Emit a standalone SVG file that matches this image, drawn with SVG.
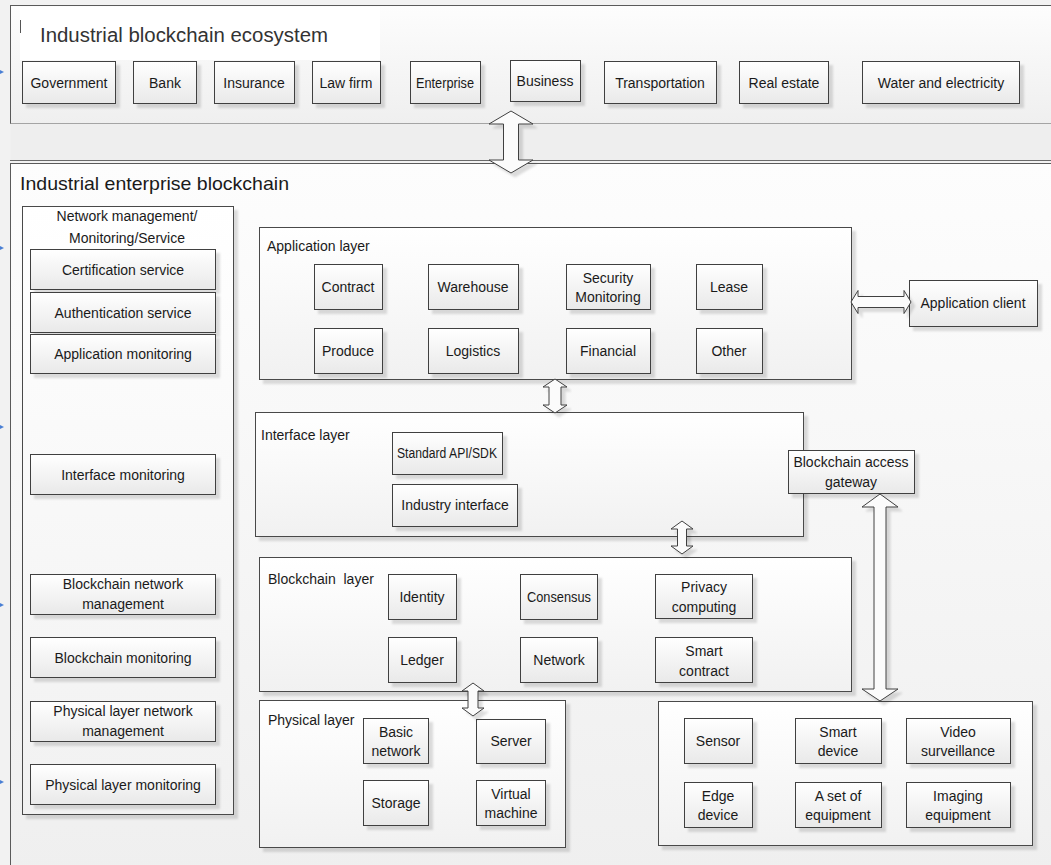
<svg xmlns="http://www.w3.org/2000/svg" width="1051" height="865" viewBox="0 0 1051 865">
  <defs>
    <linearGradient id="gBox" x1="0" y1="0" x2="0" y2="1">
      <stop offset="0" stop-color="#ffffff"/>
      <stop offset="1" stop-color="#e9e9e9"/>
    </linearGradient>
    <linearGradient id="gPanel" x1="0" y1="0" x2="0" y2="1">
      <stop offset="0" stop-color="#ffffff"/>
      <stop offset="1" stop-color="#f1f1f1"/>
    </linearGradient>
    <linearGradient id="gFrame" x1="0" y1="0" x2="0" y2="1">
      <stop offset="0" stop-color="#fdfdfd"/>
      <stop offset="1" stop-color="#efefef"/>
    </linearGradient>
    <filter id="shadow" x="-10%" y="-10%" width="130%" height="130%">
      <feDropShadow dx="4" dy="4" stdDeviation="0.8" flood-color="#000000" flood-opacity="0.13"/>
    </filter>
  </defs>
  <style>
    .frame { fill: url(#gFrame); stroke: #5a5a5a; stroke-width: 1; }
    .layer { fill: url(#gPanel); stroke: #4a4a4a; stroke-width: 1; filter: url(#shadow); }
    .box { fill: url(#gBox); stroke: #404040; stroke-width: 1; filter: url(#shadow); }
    .arrow { fill: #fbfbfb; stroke: #404040; stroke-width: 1; stroke-linejoin: miter; filter: url(#shadow); }
    .tick { fill: #4a7fd4; }
    text { font-family: "Liberation Sans", Arial, sans-serif; fill: #1a1a1a; }
    .lbl { font-size: 14px; text-anchor: middle; }
    .ttl { font-size: 14px; }
    .big { font-size: 19px; }
    .eco { font-size: 20px; fill: #333333; }
  </style>

  <!-- canvas -->
  <rect x="0" y="0" width="1051" height="865" fill="#f2f2f2"/>

  <!-- small side ticks -->
  <g id="ticks">
    <polygon class="tick" points="0,70 4,72 0,74"/>
    <polygon class="tick" points="0,246 4,248 0,250"/>
    <polygon class="tick" points="0,425 4,427 0,429"/>
    <polygon class="tick" points="0,603 4,605 0,607"/>
    <polygon class="tick" points="0,780 4,782 0,784"/>
  </g>

  <!-- ecosystem frame -->
  <g id="ecosystem">
    <rect class="frame" x="10.5" y="5.5" width="1045" height="118"/>
    <rect x="20" y="7" width="360" height="53" fill="#ffffff"/>
    <line x1="20.5" y1="20" x2="20.5" y2="33" stroke="#555" stroke-width="1"/>
    <text class="eco" x="40" y="42" textLength="288" lengthAdjust="spacingAndGlyphs">Industrial blockchain ecosystem</text>
    <rect x="10.5" y="123.5" width="1045" height="37" fill="#eeeeee" stroke="none"/>
    <line x1="10" y1="160.5" x2="1051" y2="160.5" stroke="#6a6a6a" stroke-width="1"/>
  </g>

  <g id="government"><rect class="box" x="22.5" y="61.5" width="93" height="42"/><text class="lbl" x="69" y="88">Government</text></g>
  <g id="bank"><rect class="box" x="133.5" y="61.5" width="63" height="42"/><text class="lbl" x="165" y="88">Bank</text></g>
  <g id="insurance"><rect class="box" x="214.5" y="61.5" width="80" height="42"/><text class="lbl" x="254" y="88">Insurance</text></g>
  <g id="lawfirm"><rect class="box" x="312.5" y="61.5" width="68" height="42"/><text class="lbl" x="346" y="88">Law firm</text></g>
  <g id="enterprise"><rect class="box" x="410.5" y="61.5" width="70" height="42"/><text class="lbl" x="445" y="88" textLength="58" lengthAdjust="spacingAndGlyphs">Enterprise</text></g>
  <g id="business"><rect class="box" x="510.5" y="60.5" width="70" height="41"/><text class="lbl" x="545" y="86">Business</text></g>
  <g id="transportation"><rect class="box" x="604.5" y="61.5" width="112" height="42"/><text class="lbl" x="660" y="88">Transportation</text></g>
  <g id="realestate"><rect class="box" x="739.5" y="61.5" width="89" height="42"/><text class="lbl" x="784" y="88">Real estate</text></g>
  <g id="water"><rect class="box" x="862.5" y="61.5" width="157" height="42"/><text class="lbl" x="941" y="88">Water and electricity</text></g>

  <!-- enterprise frame -->
  <g id="enterpriseChain">
    <rect class="frame" x="10.5" y="163.5" width="1045" height="710"/>
    <text class="big" x="20" y="190" textLength="269" lengthAdjust="spacingAndGlyphs">Industrial enterprise blockchain</text>
  </g>

  <!-- management column -->
  <g id="management">
    <rect class="layer" x="22.5" y="206.5" width="211" height="608"/>
    <text class="lbl" x="127" y="221">Network management/</text>
    <text class="lbl" x="127" y="243">Monitoring/Service</text>
  </g>
  <g id="certification"><rect class="box" x="30.5" y="249.5" width="185" height="40"/><text class="lbl" x="123" y="275">Certification service</text></g>
  <g id="authentication"><rect class="box" x="30.5" y="292.5" width="185" height="40"/><text class="lbl" x="123" y="318">Authentication service</text></g>
  <g id="appmonitoring"><rect class="box" x="30.5" y="334.5" width="185" height="39"/><text class="lbl" x="123" y="359">Application monitoring</text></g>
  <g id="ifmonitoring"><rect class="box" x="30.5" y="454.5" width="185" height="40"/><text class="lbl" x="123" y="480">Interface monitoring</text></g>
  <g id="bcnetmgmt"><rect class="box" x="30.5" y="574.5" width="185" height="40"/><text class="lbl" x="123" y="589">Blockchain network</text><text class="lbl" x="123" y="609">management</text></g>
  <g id="bcmonitoring"><rect class="box" x="30.5" y="637.5" width="185" height="40"/><text class="lbl" x="123" y="663">Blockchain monitoring</text></g>
  <g id="phynetmgmt"><rect class="box" x="30.5" y="701.5" width="185" height="40"/><text class="lbl" x="123" y="716">Physical layer network</text><text class="lbl" x="123" y="736">management</text></g>
  <g id="phymonitoring"><rect class="box" x="30.5" y="764.5" width="185" height="40"/><text class="lbl" x="123" y="790">Physical layer monitoring</text></g>

  <!-- application layer -->
  <g id="applicationLayer">
    <rect class="layer" x="259.5" y="227.5" width="592" height="152"/>
    <text class="ttl" x="267" y="251">Application layer</text>
  </g>
  <g id="contract"><rect class="box" x="314.5" y="264.5" width="68" height="45"/><text class="lbl" x="348" y="292">Contract</text></g>
  <g id="warehouse"><rect class="box" x="428.5" y="264.5" width="90" height="45"/><text class="lbl" x="473" y="292">Warehouse</text></g>
  <g id="security"><rect class="box" x="566.5" y="264.5" width="84" height="45"/><text class="lbl" x="608" y="283">Security</text><text class="lbl" x="608" y="302">Monitoring</text></g>
  <g id="lease"><rect class="box" x="696.5" y="264.5" width="66" height="45"/><text class="lbl" x="729" y="292">Lease</text></g>
  <g id="produce"><rect class="box" x="314.5" y="328.5" width="68" height="45"/><text class="lbl" x="348" y="356">Produce</text></g>
  <g id="logistics"><rect class="box" x="428.5" y="328.5" width="90" height="45"/><text class="lbl" x="473" y="356">Logistics</text></g>
  <g id="financial"><rect class="box" x="566.5" y="328.5" width="84" height="45"/><text class="lbl" x="608" y="356">Financial</text></g>
  <g id="other"><rect class="box" x="696.5" y="328.5" width="66" height="45"/><text class="lbl" x="729" y="356">Other</text></g>

  <g id="appclient"><rect class="box" x="909.5" y="280.5" width="128" height="46"/><text class="lbl" x="973" y="308">Application client</text></g>

  <!-- interface layer -->
  <g id="interfaceLayer">
    <rect class="layer" x="255.5" y="412.5" width="548" height="124"/>
    <text class="ttl" x="261" y="440">Interface layer</text>
  </g>
  <g id="api"><rect class="box" x="392.5" y="432.5" width="110" height="42"/><text class="lbl" x="447" y="458" textLength="100" lengthAdjust="spacingAndGlyphs">Standard API/SDK</text></g>
  <g id="industryif"><rect class="box" x="392.5" y="484.5" width="125" height="42"/><text class="lbl" x="455" y="510">Industry interface</text></g>

  <g id="gateway"><rect class="box" x="788.5" y="450.5" width="126" height="43"/><text class="lbl" x="851" y="467">Blockchain access</text><text class="lbl" x="851" y="487">gateway</text></g>

  <!-- blockchain layer -->
  <g id="blockchainLayer">
    <rect class="layer" x="259.5" y="557.5" width="592" height="134"/>
    <text class="ttl" x="268" y="584" xml:space="preserve">Blockchain  layer</text>
  </g>
  <g id="identity"><rect class="box" x="388.5" y="574.5" width="68" height="45"/><text class="lbl" x="422" y="602">Identity</text></g>
  <g id="consensus"><rect class="box" x="520.5" y="574.5" width="77" height="45"/><text class="lbl" x="559" y="602" textLength="64" lengthAdjust="spacingAndGlyphs">Consensus</text></g>
  <g id="privacy"><rect class="box" x="655.5" y="574.5" width="97" height="44"/><text class="lbl" x="704" y="592">Privacy</text><text class="lbl" x="704" y="612">computing</text></g>
  <g id="ledger"><rect class="box" x="388.5" y="637.5" width="68" height="45"/><text class="lbl" x="422" y="665">Ledger</text></g>
  <g id="network"><rect class="box" x="520.5" y="637.5" width="77" height="45"/><text class="lbl" x="559" y="665">Network</text></g>
  <g id="smartcontract"><rect class="box" x="655.5" y="637.5" width="97" height="45"/><text class="lbl" x="704" y="656">Smart</text><text class="lbl" x="704" y="676">contract</text></g>

  <!-- physical layer -->
  <g id="physicalLayer">
    <rect class="layer" x="259.5" y="700.5" width="306" height="147"/>
    <text class="ttl" x="268" y="725">Physical layer</text>
  </g>
  <g id="basicnetwork"><rect class="box" x="363.5" y="718.5" width="65" height="45"/><text class="lbl" x="396" y="737">Basic</text><text class="lbl" x="396" y="756">network</text></g>
  <g id="server"><rect class="box" x="476.5" y="719.5" width="69" height="44"/><text class="lbl" x="511" y="746">Server</text></g>
  <g id="storage"><rect class="box" x="363.5" y="780.5" width="65" height="45"/><text class="lbl" x="396" y="808">Storage</text></g>
  <g id="vm"><rect class="box" x="476.5" y="780.5" width="69" height="45"/><text class="lbl" x="511" y="799">Virtual</text><text class="lbl" x="511" y="818">machine</text></g>

  <!-- device layer -->
  <g id="deviceLayer">
    <rect class="layer" x="658.5" y="701.5" width="374" height="144"/>
  </g>
  <g id="sensor"><rect class="box" x="684.5" y="718.5" width="68" height="45"/><text class="lbl" x="718" y="746">Sensor</text></g>
  <g id="smartdevice"><rect class="box" x="795.5" y="718.5" width="86" height="45"/><text class="lbl" x="838" y="737">Smart</text><text class="lbl" x="838" y="756">device</text></g>
  <g id="video"><rect class="box" x="906.5" y="718.5" width="104" height="45"/><text class="lbl" x="958" y="737">Video</text><text class="lbl" x="958" y="756">surveillance</text></g>
  <g id="edge"><rect class="box" x="684.5" y="782.5" width="68" height="45"/><text class="lbl" x="718" y="801">Edge</text><text class="lbl" x="718" y="820">device</text></g>
  <g id="equipset"><rect class="box" x="795.5" y="782.5" width="86" height="45"/><text class="lbl" x="838" y="801">A set of</text><text class="lbl" x="838" y="820">equipment</text></g>
  <g id="imaging"><rect class="box" x="906.5" y="782.5" width="104" height="45"/><text class="lbl" x="958" y="801">Imaging</text><text class="lbl" x="958" y="820">equipment</text></g>

  <!-- connectors: hollow double-headed arrows -->
  <g id="connectors">
    <polygon class="arrow" points="511,111 533,124 518.5,124 518.5,160 533,160 511,173 489,160 503.5,160 503.5,124 489,124"/>
    <polygon class="arrow" points="851,302 858,290.5 858,296.5 904,296.5 904,290.5 911,302 904,313.5 904,307.5 858,307.5 858,313.5"/>
    <polygon class="arrow" points="555,379 567,387 561,387 561,405 567,405 555,413 543,405 549,405 549,387 543,387"/>
    <polygon class="arrow" points="682,521 693,529 686.5,529 686.5,546 693,546 682,554 671,546 677.5,546 677.5,529 671,529"/>
    <polygon class="arrow" points="473,683 484,691 478,691 478,708 484,708 473,716 462,708 468,708 468,691 462,691"/>
    <polygon class="arrow" points="880,494 898,507 886,507 886,689 898,689 880,701 862,689 874,689 874,507 862,507"/>
  </g>
</svg>
